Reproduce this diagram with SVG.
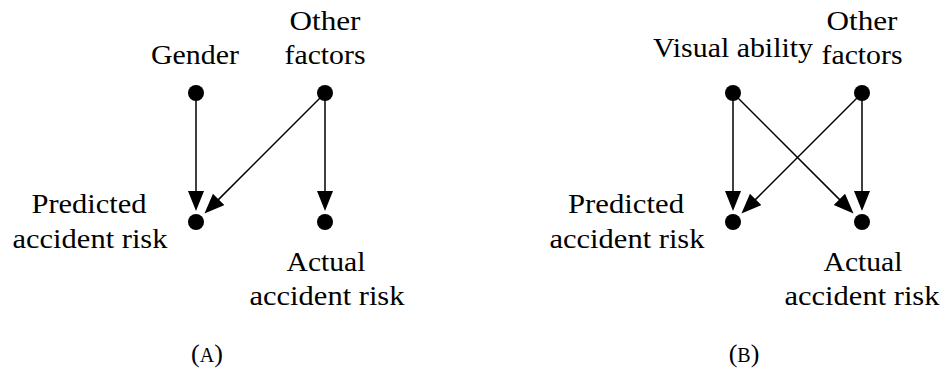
<svg xmlns="http://www.w3.org/2000/svg" width="942" height="374" viewBox="0 0 942 374" font-family="'Liberation Serif', 'DejaVu Serif', serif">
<style>
text{font-family:'Liberation Serif','DejaVu Serif',serif;font-size:28px;fill:#000;text-anchor:middle}
.cap{font-size:26px}
.sc{font-size:20px}
.edge{stroke:#000;stroke-width:1.5;fill:none;marker-end:url(#arr)}
.dot{fill:#000}
</style>
<defs>
<marker id="arr" markerUnits="userSpaceOnUse" markerWidth="22" markerHeight="18" refX="1" refY="8" orient="auto" viewBox="0 0 22 18">
<path d="M0,0 L20,8 L0,16 z" fill="#000"/>
</marker>
</defs>
<rect width="942" height="374" fill="#fff"/>
<g id="connectors">
<line class="edge" x1="196" y1="93" x2="196" y2="192"/>
<line class="edge" x1="325" y1="93" x2="217.9" y2="200.1"/>
<line class="edge" x1="325" y1="93" x2="325" y2="192"/>
<line class="edge" x1="733" y1="93" x2="733" y2="192"/>
<line class="edge" x1="733" y1="93" x2="840.1" y2="200.1"/>
<line class="edge" x1="862" y1="93" x2="754.9" y2="200.1"/>
<line class="edge" x1="862" y1="93" x2="862" y2="192"/>
</g>
<g id="a-gender">
<circle class="dot" cx="196" cy="93" r="8"/>
<text x="195" y="64" textLength="88" lengthAdjust="spacingAndGlyphs">Gender</text>
</g>
<g id="a-other">
<circle class="dot" cx="325" cy="93" r="8"/>
<text x="325" y="30" textLength="71" lengthAdjust="spacingAndGlyphs">Other</text>
<text x="325" y="64" textLength="81" lengthAdjust="spacingAndGlyphs">factors</text>
</g>
<g id="a-predicted">
<circle class="dot" cx="196" cy="222" r="8"/>
<text x="89" y="213" textLength="115" lengthAdjust="spacingAndGlyphs">Predicted</text>
<text x="90" y="248" textLength="155" lengthAdjust="spacingAndGlyphs">accident risk</text>
</g>
<g id="a-actual">
<circle class="dot" cx="325" cy="222" r="8"/>
<text x="326" y="271" textLength="79" lengthAdjust="spacingAndGlyphs">Actual</text>
<text x="327" y="305" textLength="155" lengthAdjust="spacingAndGlyphs">accident risk</text>
</g>
<text class="cap" x="207" y="362">(<tspan class="sc">A</tspan>)</text>
<g id="b-visual">
<circle class="dot" cx="733" cy="93" r="8"/>
<text x="733" y="57" textLength="160" lengthAdjust="spacingAndGlyphs">Visual ability</text>
</g>
<g id="b-other">
<circle class="dot" cx="862" cy="93" r="8"/>
<text x="862" y="30" textLength="71" lengthAdjust="spacingAndGlyphs">Other</text>
<text x="862" y="64" textLength="81" lengthAdjust="spacingAndGlyphs">factors</text>
</g>
<g id="b-predicted">
<circle class="dot" cx="733" cy="222" r="8"/>
<text x="626" y="213" textLength="116" lengthAdjust="spacingAndGlyphs">Predicted</text>
<text x="627" y="248" textLength="155" lengthAdjust="spacingAndGlyphs">accident risk</text>
</g>
<g id="b-actual">
<circle class="dot" cx="862" cy="222" r="8"/>
<text x="863" y="271" textLength="79" lengthAdjust="spacingAndGlyphs">Actual</text>
<text x="862" y="305" textLength="155" lengthAdjust="spacingAndGlyphs">accident risk</text>
</g>
<text class="cap" x="744" y="362">(<tspan class="sc">B</tspan>)</text>
</svg>
